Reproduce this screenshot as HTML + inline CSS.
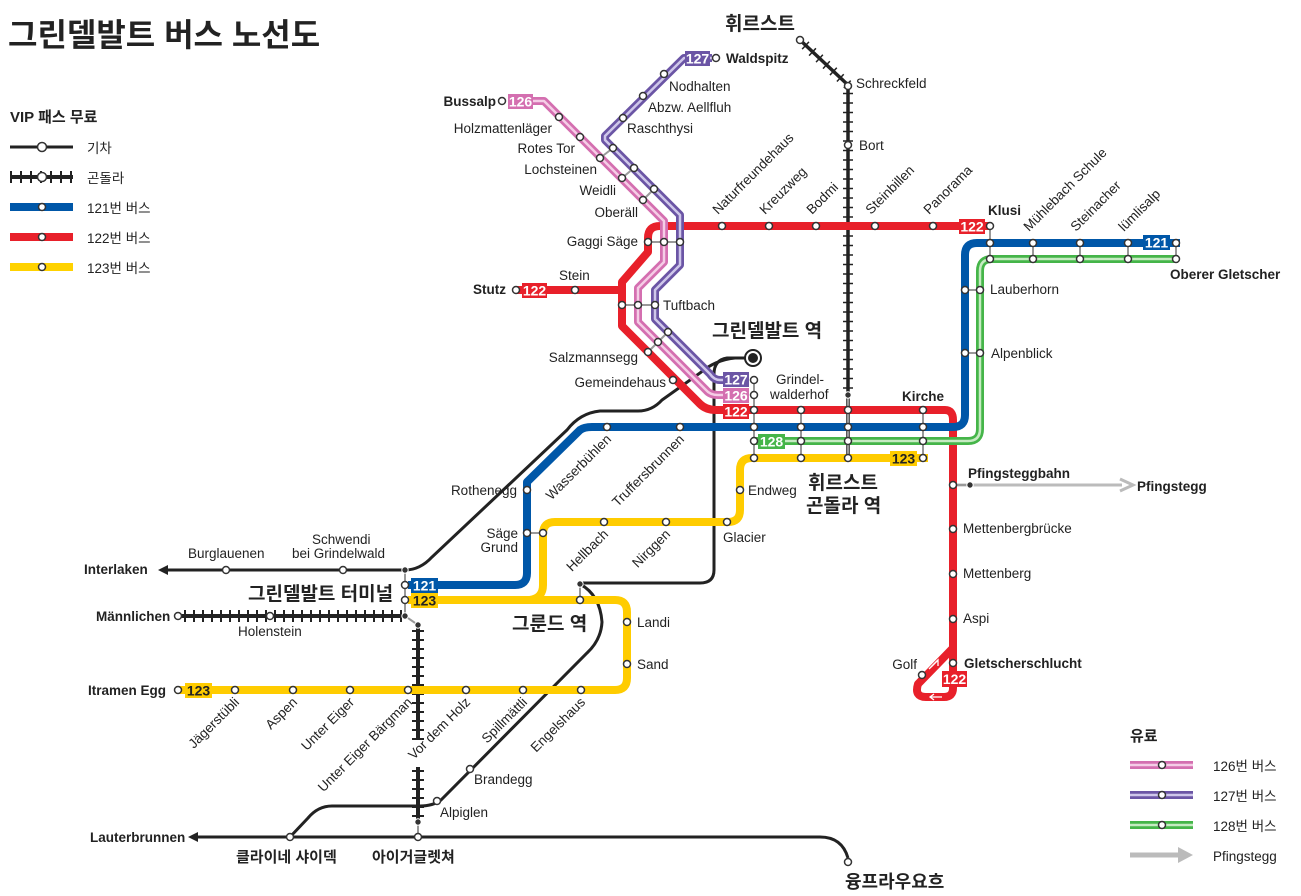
<!DOCTYPE html>
<html><head><meta charset="utf-8"><style>
html,body{margin:0;padding:0;background:#fff;}
svg{display:block;font-family:"Liberation Sans","Noto Sans CJK KR",sans-serif;}
.s{fill:#fff;stroke:#333;stroke-width:1.5}
.d{fill:#333;stroke:#fff;stroke-width:1}
.t{font-size:13.5px;fill:#222}
.b{font-size:13.5px;fill:#222;font-weight:bold}
.k{font-family:"Liberation Sans","Noto Sans CJK KR",sans-serif;font-weight:bold;fill:#222}
.bx{font-size:14px;font-weight:bold;fill:#fff}
.c{stroke:#999;stroke-width:2;fill:none}
</style></head><body>
<svg width="1301" height="896" viewBox="0 0 1301 896" xmlns="http://www.w3.org/2000/svg">
<text x="8" y="46" class="k" font-size="32">그린델발트 버스 노선도</text>

<text x="10" y="122" class="k" font-size="15">VIP 패스 무료</text>
<line x1="10" y1="147" x2="73" y2="147" stroke="#222" stroke-width="3"/>
<circle cx="42" cy="147" r="4.5" class="s"/>
<text x="87" y="153" class="t" font-size="15">기차</text>
<line x1="10" y1="177" x2="73" y2="177" stroke="#222" stroke-width="4"/>
<line x1="10" y1="177" x2="73" y2="177" stroke="#222" stroke-width="12" stroke-dasharray="2 8"/>
<circle cx="42" cy="177" r="4.5" class="s"/>
<text x="87" y="183" class="t" font-size="15">곤돌라</text>
<line x1="10" y1="207" x2="73" y2="207" stroke="#0057a8" stroke-width="8"/><circle cx="42" cy="207" r="3.5" class="s"/>
<text x="87" y="213" class="t" font-size="15">121번 버스</text>
<line x1="10" y1="237" x2="73" y2="237" stroke="#e8202a" stroke-width="8"/><circle cx="42" cy="237" r="3.5" class="s"/>
<text x="87" y="243" class="t" font-size="15">122번 버스</text>
<line x1="10" y1="267" x2="73" y2="267" stroke="#ffd200" stroke-width="8"/><circle cx="42" cy="267" r="3.5" class="s"/>
<text x="87" y="273" class="t" font-size="15">123번 버스</text>

<text x="1130" y="741" class="k" font-size="15">유료</text>
<line x1="1130" y1="765" x2="1193" y2="765" stroke="#d46fb0" stroke-width="8"/><line x1="1130" y1="765" x2="1193" y2="765" stroke="#f5cde6" stroke-width="2.5"/><circle cx="1162" cy="765" r="3.5" class="s"/>
<text x="1213" y="771" class="t" font-size="15">126번 버스</text>
<line x1="1130" y1="795" x2="1193" y2="795" stroke="#6b55a5" stroke-width="8"/><line x1="1130" y1="795" x2="1193" y2="795" stroke="#cfc7ea" stroke-width="2.5"/><circle cx="1162" cy="795" r="3.5" class="s"/>
<text x="1213" y="801" class="t" font-size="15">127번 버스</text>
<line x1="1130" y1="825" x2="1193" y2="825" stroke="#45b549" stroke-width="8"/><line x1="1130" y1="825" x2="1193" y2="825" stroke="#c6ebc2" stroke-width="2.5"/><circle cx="1162" cy="825" r="3.5" class="s"/>
<text x="1213" y="831" class="t" font-size="15">128번 버스</text>
<line x1="1130" y1="855" x2="1180" y2="855" stroke="#bbb" stroke-width="5"/><polygon points="1178,847 1193,855 1178,863" fill="#bbb"/>
<text x="1213" y="861" class="t" font-size="15">Pfingstegg</text>

<line x1="953" y1="485" x2="1122" y2="485" stroke="#bbb" stroke-width="3"/>
<polyline points="1120,479 1133,485 1120,491" fill="none" stroke="#bbb" stroke-width="3"/>

<g fill="none" stroke="#222" stroke-width="3">
<path d="M165,570 H405 Q420,570 432,557 L567,430 Q580,413 600,411 L638,411 Q652,411 662,400 L700,373 Q715,360 735,358 H753"/>
<path d="M753,358 H727 Q714,360 714,374 V570 Q714,583 700,583 H580"/>
<path d="M580,584 Q600,595 602,622 Q601,640 587,653 L441,800 Q433,806 420,806 H332 Q318,806 308,818 L290,837"/>
<path d="M195,837 H820 Q842,837 848,858"/>
</g>
<polygon points="158,570 168,565 168,575" fill="#222"/>
<polygon points="188,837 198,832 198,842" fill="#222"/>

<g fill="none" stroke="#222">
<path d="M178,616 H405" stroke-width="4"/>
<path d="M184,616 H405" stroke-width="12" stroke-dasharray="2 7"/>
<path d="M418,625 V740 M418,767 V825" stroke-width="4"/>
<path d="M418,630 V740 M418,770 V822" stroke-width="12" stroke-dasharray="2 7"/>
<path d="M800,40 L848,85 V455" stroke-width="3.5"/>
<path d="M805,45 L848,85 V395" stroke-width="10" stroke-dasharray="1.5 8"/>
</g>
<path d="M405,570 V616 L418,625" class="c"/>

<g fill="none" stroke="#e8202a" stroke-width="8" stroke-linejoin="round">
<path d="M990,226 H660 Q648,226 648,238 V252 L622,282 V326 L700,404 Q706,410 716,410 H945 Q953,410 953,420 V688 Q953,697 944,697 H926 Q914,697 918,684 L953,648"/>
<path d="M516,290 H622"/>
</g>
<polyline points="931,667 938,660 938,666" fill="none" stroke="#fff" stroke-width="1.3"/>
<line x1="929" y1="669" x2="938" y2="660" stroke="#fff" stroke-width="1.3"/>
<line x1="930" y1="697" x2="942" y2="697" stroke="#fff" stroke-width="1.3"/>
<polyline points="934,694 930,697 934,700" fill="none" stroke="#fff" stroke-width="1.3"/>

<path d="M508,101 H544 L664,221 V262 L638,288 V322 L706,390 Q710,395 718,395 H728" fill="none" stroke="#d46fb0" stroke-width="8" stroke-linejoin="round"/>
<path d="M508,101 H544 L664,221 V262 L638,288 V322 L706,390 Q710,395 718,395 H728" fill="none" stroke="#f5cde6" stroke-width="2.5" stroke-linejoin="round"/>
<path d="M712,58 H684 L605,136 V140 L680,215 V265 L655,290 V319 L710,374 Q714,380 720,380 H728" fill="none" stroke="#6b55a5" stroke-width="8" stroke-linejoin="round"/>
<path d="M712,58 H684 L605,136 V140 L680,215 V265 L655,290 V319 L710,374 Q714,380 720,380 H728" fill="none" stroke="#cfc7ea" stroke-width="2.5" stroke-linejoin="round"/>

<path d="M408,585 H515 Q527,585 527,573 V482 L580,430 Q584,427 592,427 H953 Q965,427 965,415 V255 Q965,243 977,243 H1180" fill="none" stroke="#0057a8" stroke-width="8" stroke-linejoin="round"/>
<path d="M752,441 H968 Q980,441 980,429 V271 Q980,259 992,259 H1178" fill="none" stroke="#45b549" stroke-width="8"/>
<path d="M752,441 H968 Q980,441 980,429 V271 Q980,259 992,259 H1178" fill="none" stroke="#c6ebc2" stroke-width="2.5"/>

<g fill="none" stroke="#ffcc00" stroke-width="8" stroke-linejoin="round">
<path d="M408,600 H615 Q627,600 627,612 V678 Q627,690 615,690 H176"/>
<path d="M530,600 Q543,598 543,585 V534 Q543,522 555,522 H728 Q740,522 740,510 V470 Q740,458 752,458 H928"/>
</g>

<g class="c">
<path d="M754,380 V458 M801,410 V458 M848,395 V458 M923,410 V458"/>
<path d="M648,242 H680 M622,305 H655 M648,352 L668,332"/>
<path d="M600,158 L613,148 M622,178 L634,168 M643,200 L654,189"/>
<path d="M527,533 H543 M580,584 V600"/>
<path d="M990,226 V259 M1033,243 V259 M1080,243 V259 M1128,243 V259 M1176,243 V259"/>
<path d="M965,290 H980 M965,353 H980"/>
<path d="M953,485 H970"/>
<path d="M418,825 V837"/>
</g>

<rect x="508" y="94" width="25" height="15" fill="#d46fb0"/><text x="520.5" y="106.5" class="bx" text-anchor="middle">126</text>
<rect x="685" y="51" width="25" height="15" fill="#6b55a5"/><text x="697.5" y="63.5" class="bx" text-anchor="middle">127</text>
<rect x="522" y="283" width="25" height="15" fill="#e8202a"/><text x="534.5" y="295.5" class="bx" text-anchor="middle">122</text>
<rect x="959" y="219" width="26" height="15" fill="#e8202a"/><text x="972" y="231.5" class="bx" text-anchor="middle">122</text>
<rect x="1143" y="235" width="27" height="15" fill="#0057a8"/><text x="1156.5" y="247.5" class="bx" text-anchor="middle">121</text>
<rect x="723" y="372" width="26" height="15" fill="#6b55a5"/><text x="736" y="384.5" class="bx" text-anchor="middle">127</text>
<rect x="723" y="388" width="26" height="15" fill="#d46fb0"/><text x="736" y="400.5" class="bx" text-anchor="middle">126</text>
<rect x="723" y="404" width="26" height="15" fill="#e8202a"/><text x="736" y="416.5" class="bx" text-anchor="middle">122</text>
<rect x="758" y="434" width="27" height="15" fill="#45b549"/><text x="771.5" y="446.5" class="bx" text-anchor="middle">128</text>
<rect x="890" y="451" width="27" height="15" fill="#ffcc00"/><text x="903.5" y="463.5" class="bx" text-anchor="middle" style="fill:#222">123</text>
<rect x="411" y="578" width="27" height="15" fill="#0057a8"/><text x="424.5" y="590.5" class="bx" text-anchor="middle">121</text>
<rect x="411" y="593" width="27" height="15" fill="#ffcc00"/><text x="424.5" y="605.5" class="bx" text-anchor="middle" style="fill:#222">123</text>
<rect x="185" y="683" width="27" height="15" fill="#ffcc00"/><text x="198.5" y="695.5" class="bx" text-anchor="middle" style="fill:#222">123</text>
<rect x="942" y="671" width="25" height="16" fill="#e8202a"/><text x="954.5" y="684" class="bx" text-anchor="middle">122</text>

<g class="s">
<circle cx="502" cy="101" r="3.5"/><circle cx="716" cy="58" r="3.5"/>
<circle cx="559" cy="117" r="3.5"/><circle cx="580" cy="137" r="3.5"/><circle cx="600" cy="158" r="3.5"/><circle cx="622" cy="178" r="3.5"/><circle cx="643" cy="200" r="3.5"/>
<circle cx="613" cy="148" r="3.5"/><circle cx="634" cy="168" r="3.5"/><circle cx="654" cy="189" r="3.5"/>
<circle cx="664" cy="74" r="3.5"/><circle cx="643" cy="96" r="3.5"/><circle cx="623" cy="118" r="3.5"/>
<circle cx="648" cy="242" r="3.5"/><circle cx="664" cy="242" r="3.5"/><circle cx="680" cy="242" r="3.5"/>
<circle cx="622" cy="305" r="3.5"/><circle cx="638" cy="305" r="3.5"/><circle cx="655" cy="305" r="3.5"/>
<circle cx="648" cy="352" r="3.5"/><circle cx="658" cy="342" r="3.5"/><circle cx="668" cy="332" r="3.5"/>
<circle cx="673" cy="380" r="3.5"/>
<circle cx="516" cy="290" r="3.5"/><circle cx="575" cy="290" r="3.5"/>
<circle cx="722" cy="226" r="3.5"/><circle cx="769" cy="226" r="3.5"/><circle cx="816" cy="226" r="3.5"/><circle cx="875" cy="226" r="3.5"/><circle cx="933" cy="226" r="3.5"/><circle cx="990" cy="226" r="3.5"/>
<circle cx="990" cy="243" r="3.5"/><circle cx="1033" cy="243" r="3.5"/><circle cx="1080" cy="243" r="3.5"/><circle cx="1128" cy="243" r="3.5"/><circle cx="1176" cy="243" r="3.5"/>
<circle cx="990" cy="259" r="3.5"/><circle cx="1033" cy="259" r="3.5"/><circle cx="1080" cy="259" r="3.5"/><circle cx="1128" cy="259" r="3.5"/><circle cx="1176" cy="259" r="3.5"/>
<circle cx="965" cy="290" r="3.5"/><circle cx="980" cy="290" r="3.5"/><circle cx="965" cy="353" r="3.5"/><circle cx="980" cy="353" r="3.5"/>
<circle cx="754" cy="380" r="3.5"/><circle cx="754" cy="395" r="3.5"/>
<circle cx="754" cy="410" r="3.5"/><circle cx="801" cy="410" r="3.5"/><circle cx="848" cy="410" r="3.5"/><circle cx="923" cy="410" r="3.5"/>
<circle cx="754" cy="427" r="3.5"/><circle cx="801" cy="427" r="3.5"/><circle cx="848" cy="427" r="3.5"/><circle cx="923" cy="427" r="3.5"/>
<circle cx="754" cy="441" r="3.5"/><circle cx="801" cy="441" r="3.5"/><circle cx="848" cy="441" r="3.5"/><circle cx="923" cy="441" r="3.5"/>
<circle cx="754" cy="458" r="3.5"/><circle cx="801" cy="458" r="3.5"/><circle cx="848" cy="458" r="3.5"/><circle cx="923" cy="458" r="3.5"/>
<circle cx="607" cy="427" r="3.5"/><circle cx="680" cy="427" r="3.5"/>
<circle cx="527" cy="490" r="3.5"/><circle cx="527" cy="533" r="3.5"/><circle cx="543" cy="533" r="3.5"/>
<circle cx="740" cy="490" r="3.5"/><circle cx="727" cy="522" r="3.5"/><circle cx="666" cy="522" r="3.5"/><circle cx="604" cy="522" r="3.5"/>
<circle cx="953" cy="485" r="3.5"/><circle cx="953" cy="529" r="3.5"/><circle cx="953" cy="574" r="3.5"/><circle cx="953" cy="619" r="3.5"/><circle cx="953" cy="663" r="3.5"/><circle cx="922" cy="675" r="3.5"/>
<circle cx="405" cy="585" r="3.5"/><circle cx="405" cy="600" r="3.5"/><circle cx="580" cy="600" r="3.5"/>
<circle cx="627" cy="622" r="3.5"/><circle cx="627" cy="664" r="3.5"/>
<circle cx="178" cy="690" r="3.5"/><circle cx="235" cy="690" r="3.5"/><circle cx="293" cy="690" r="3.5"/><circle cx="350" cy="690" r="3.5"/><circle cx="408" cy="690" r="3.5"/><circle cx="466" cy="690" r="3.5"/><circle cx="523" cy="690" r="3.5"/><circle cx="581" cy="690" r="3.5"/>
<circle cx="226" cy="570" r="3.5"/><circle cx="343" cy="570" r="3.5"/>
<circle cx="178" cy="616" r="3.5"/><circle cx="270" cy="616" r="3.5"/>
<circle cx="470" cy="769" r="3.5"/><circle cx="437" cy="801" r="3.5"/>
<circle cx="290" cy="837" r="3.5"/><circle cx="418" cy="837" r="3.5"/><circle cx="848" cy="862" r="3.5"/>
<circle cx="800" cy="40" r="3.5"/><circle cx="848" cy="86" r="3.5"/><circle cx="848" cy="145" r="3.5"/>
</g>
<g class="d">
<circle cx="848" cy="395" r="3.2"/><circle cx="970" cy="485" r="3.2"/><circle cx="405" cy="570" r="3.2"/><circle cx="405" cy="616" r="3.2"/><circle cx="418" cy="625" r="3.2"/><circle cx="418" cy="822" r="3.2"/><circle cx="580" cy="584" r="3.2"/>
</g>
<circle cx="753" cy="358" r="8" fill="#fff" stroke="#222" stroke-width="2"/><circle cx="753" cy="358" r="5" fill="#222"/>

<g class="t">
<text x="496" y="106" class="b" text-anchor="end">Bussalp</text>
<text x="552" y="133" text-anchor="end">Holzmattenläger</text>
<text x="575" y="153" text-anchor="end">Rotes Tor</text>
<text x="597" y="174" text-anchor="end">Lochsteinen</text>
<text x="616" y="195" text-anchor="end">Weidli</text>
<text x="638" y="217" text-anchor="end">Oberäll</text>
<text x="669" y="91">Nodhalten</text>
<text x="648" y="112">Abzw. Aellfluh</text>
<text x="627" y="133">Raschthysi</text>
<text x="726" y="63" class="b">Waldspitz</text>
<text x="638" y="246" text-anchor="end">Gaggi Säge</text>
<text x="559" y="280">Stein</text>
<text x="506" y="294" class="b" text-anchor="end">Stutz</text>
<text x="663" y="310">Tuftbach</text>
<text x="638" y="362" text-anchor="end">Salzmannsegg</text>
<text x="666" y="387" text-anchor="end">Gemeindehaus</text>
<text x="776" y="384">Grindel-</text>
<text x="770" y="399">walderhof</text>
<text x="902" y="401" class="b">Kirche</text>
<text x="856" y="88">Schreckfeld</text>
<text x="859" y="150">Bort</text>
<text x="988" y="215" class="b">Klusi</text>
<text x="1170" y="279" class="b">Oberer Gletscher</text>
<text x="990" y="294">Lauberhorn</text>
<text x="991" y="358">Alpenblick</text>
<text x="968" y="478" class="b">Pfingsteggbahn</text>
<text x="1137" y="491" class="b">Pfingstegg</text>
<text x="963" y="533">Mettenbergbrücke</text>
<text x="963" y="578">Mettenberg</text>
<text x="963" y="623">Aspi</text>
<text x="964" y="668" class="b">Gletscherschlucht</text>
<text x="917" y="669" text-anchor="end">Golf</text>
<text x="748" y="495">Endweg</text>
<text x="723" y="542">Glacier</text>
<text x="517" y="495" text-anchor="end">Rothenegg</text>
<text x="518" y="538" text-anchor="end">Säge</text>
<text x="518" y="552" text-anchor="end">Grund</text>
<text x="84" y="574" class="b">Interlaken</text>
<text x="188" y="558">Burglauenen</text>
<text x="312" y="544">Schwendi</text>
<text x="292" y="558">bei Grindelwald</text>
<text x="96" y="621" class="b">Männlichen</text>
<text x="238" y="636">Holenstein</text>
<text x="88" y="695" class="b">Itramen Egg</text>
<text x="637" y="627">Landi</text>
<text x="637" y="669">Sand</text>
<text x="474" y="784">Brandegg</text>
<text x="440" y="817">Alpiglen</text>
<text x="90" y="842" class="b">Lauterbrunnen</text>
</g>
<g class="t">
<text transform="translate(718,215) rotate(-45)">Naturfreundehaus</text>
<text transform="translate(765,215) rotate(-45)">Kreuzweg</text>
<text transform="translate(812,215) rotate(-45)">Bodmi</text>
<text transform="translate(871,215) rotate(-45)">Steinbillen</text>
<text transform="translate(929,215) rotate(-45)">Panorama</text>
<text transform="translate(1029,232) rotate(-45)">Mühlebach Schule</text>
<text transform="translate(1076,232) rotate(-45)">Steinacher</text>
<text transform="translate(1124,232) rotate(-45)">lümlisalp</text>
</g>
<g class="t" text-anchor="end">
<text transform="translate(612,440) rotate(-45)">Wasserbühlen</text>
<text transform="translate(685,440) rotate(-45)">Truffersbrunnen</text>
<text transform="translate(609,535) rotate(-45)">Hellbach</text>
<text transform="translate(671,535) rotate(-45)">Nirggen</text>
<text transform="translate(240,703) rotate(-45)">Jägerstübli</text>
<text transform="translate(298,703) rotate(-45)">Aspen</text>
<text transform="translate(355,703) rotate(-45)">Unter Eiger</text>
<text transform="translate(413,703) rotate(-45)">Unter Eiger Bärgman</text>
<text transform="translate(471,703) rotate(-45)">Vor dem Holz</text>
<text transform="translate(528,703) rotate(-45)">Spillmättli</text>
<text transform="translate(586,703) rotate(-45)">Engelshaus</text>
</g>

<g class="k">
<text x="725" y="30" font-size="19">휘르스트</text>
<text x="712" y="337" font-size="19">그린델발트 역</text>
<text x="808" y="489" font-size="19">휘르스트</text>
<text x="806" y="512" font-size="19">곤돌라 역</text>
<text x="248" y="600" font-size="19">그린델발트 터미널</text>
<text x="512" y="630" font-size="19">그룬드 역</text>
<text x="236" y="862" font-size="15">클라이네 샤이덱</text>
<text x="372" y="862" font-size="15">아이거글렛쳐</text>
<text x="845" y="888" font-size="18">융프라우요흐</text>
</g>
</svg>
</body></html>
